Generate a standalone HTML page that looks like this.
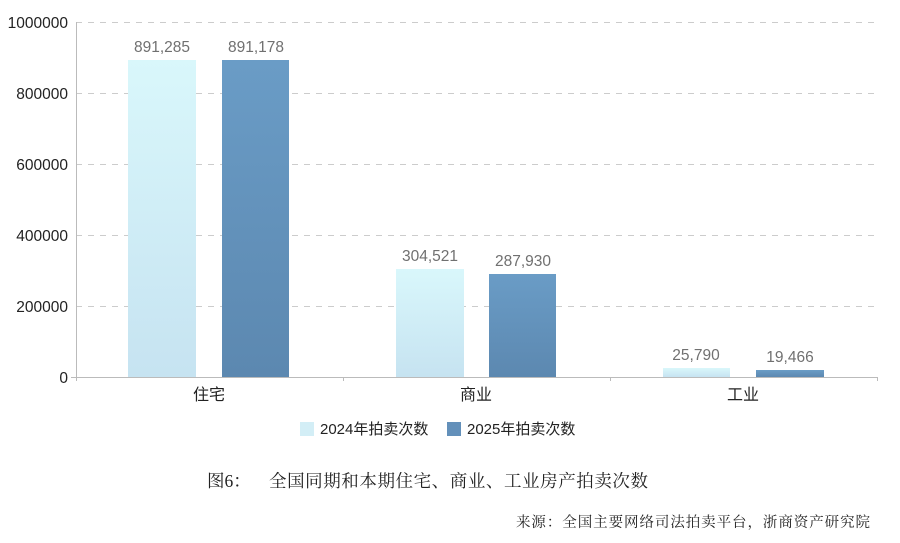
<!DOCTYPE html>
<html><head><meta charset="utf-8"><style>
body{margin:0;background:#fff;width:900px;height:538px;overflow:hidden}
svg text{font-family:"Liberation Sans","Noto Sans CJK SC",sans-serif}
</style></head><body>
<svg width="900" height="538" xmlns="http://www.w3.org/2000/svg">
<defs>
<linearGradient id="l" x1="0" y1="0" x2="0" y2="1"><stop offset="0" stop-color="#d9f7fb"/><stop offset="1" stop-color="#c6e3f1"/></linearGradient>
<linearGradient id="d" x1="0" y1="0" x2="0" y2="1"><stop offset="0" stop-color="#6a9cc6"/><stop offset="1" stop-color="#5c88b0"/></linearGradient>
</defs>
<g stroke="#ccc" stroke-dasharray="6,6" stroke-width="1">
<line x1="76" y1="22.5" x2="876" y2="22.5"/><line x1="76" y1="93.5" x2="876" y2="93.5"/><line x1="76" y1="164.5" x2="876" y2="164.5"/><line x1="76" y1="235.5" x2="876" y2="235.5"/><line x1="76" y1="306.5" x2="876" y2="306.5"/>
</g>
<g stroke="#bbb"><line x1="76.5" y1="22" x2="76.5" y2="381"/><line x1="71" y1="377.5" x2="878" y2="377.5"/>
<line x1="343.5" y1="377" x2="343.5" y2="381"/><line x1="610.5" y1="377" x2="610.5" y2="381"/><line x1="877.5" y1="377" x2="877.5" y2="381"/></g>
<g font-size="15.5" fill="#222" text-anchor="end">
<text x="68" y="28">1000000</text><text x="68" y="99">800000</text><text x="68" y="170">600000</text><text x="68" y="241">400000</text><text x="68" y="312">200000</text><text x="68" y="383">0</text></g>
<rect x="128" y="60" width="68" height="317" fill="url(#l)"/>
<rect x="222" y="60" width="67" height="317" fill="url(#d)"/>
<rect x="396" y="269" width="68" height="108" fill="url(#l)"/>
<rect x="489" y="274" width="67" height="103" fill="url(#d)"/>
<rect x="663" y="368" width="67" height="9" fill="url(#l)"/>
<rect x="756" y="370" width="68" height="7" fill="url(#d)"/>
<g font-size="15.5" fill="#707070" text-anchor="middle">
<text x="162" y="52">891,285</text><text x="256" y="52">891,178</text>
<text x="430" y="261">304,521</text><text x="523" y="266">287,930</text>
<text x="696" y="360">25,790</text><text x="790" y="362">19,466</text></g>
<g font-size="16" fill="#222" text-anchor="middle">
<text x="209" y="400">住宅</text><text x="476" y="400">商业</text><text x="743" y="400">工业</text></g>
<rect x="300" y="422" width="14" height="14" fill="#d3eef6"/>
<text x="320" y="434" font-size="15" fill="#222">2024年拍卖次数</text>
<rect x="447" y="422" width="14" height="14" fill="#6390ba"/>
<text x="467" y="434" font-size="15" fill="#222">2025年拍卖次数</text>
<text x="207" y="487" font-size="17.5" fill="#222" style="font-family:'Liberation Serif','Noto Serif CJK SC',serif">图6：</text>
<text x="269" y="487" font-size="17.5" fill="#222" textLength="379" style="font-family:'Liberation Serif','Noto Serif CJK SC',serif">全国同期和本期住宅、商业、工业房产拍卖次数</text>
<text x="516" y="527" font-size="14.5" fill="#222" textLength="354" style="font-family:'Liberation Serif','Noto Serif CJK SC',serif">来源：全国主要网络司法拍卖平台，浙商资产研究院</text>
</svg>
</body></html>
